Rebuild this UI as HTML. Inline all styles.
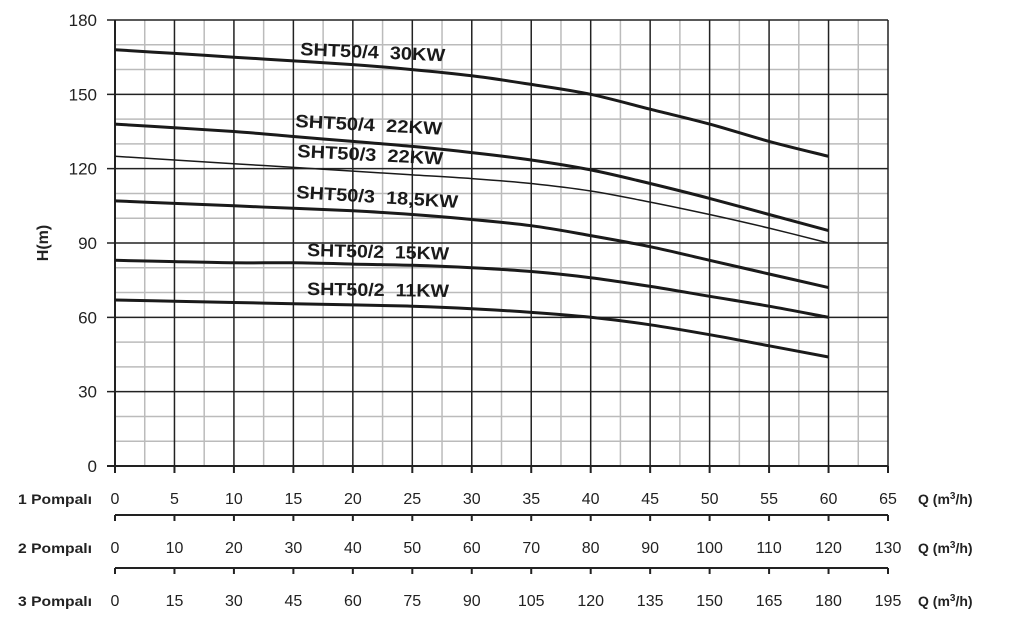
<!DOCTYPE html>
<html><head><meta charset="utf-8"><style>
body{margin:0;background:#fff;}
svg text{font-family:"Liberation Sans",sans-serif;}
</style></head><body>
<svg id="c" width="1011" height="618"></svg>
<script>
const qValues=[0,5,10,15,20,25,30,35,40,45,50,55,60];
const s30=[168,166.5,165,163.5,162,160,157.5,154,150,144,138,131,125];
const s422=[138,136.5,135,133,131,129,126.5,123.5,119.5,114,108,101.5,95];
const s322=[125,123.5,122,120.5,119,117.5,116,114,111,106.5,101.5,96,90];
const s185=[107,106,105,104,103,101.5,99.5,97,93,88.5,83,77.5,72];
const s15=[83,82.5,82,82,81.5,81,80,78.5,76,72.5,68.5,64.5,60];
const s11=[67,66.5,66,65.5,65,64.5,63.5,62,60,57,53,48.5,44];
const yTicks=[0,30,60,90,120,150,180];
const x1Ticks=[0,5,10,15,20,25,30,35,40,45,50,55,60,65];
const x2Ticks=[0,10,20,30,40,50,60,70,80,90,100,110,120,130];
const x3Ticks=[0,15,30,45,60,75,90,105,120,135,150,165,180,195];
const seriesNames=["SHT50/4  30KW","SHT50/4  22KW","SHT50/3  22KW","SHT50/3  18,5KW","SHT50/2  15KW","SHT50/2  11KW"];
const svg=document.getElementById('c');const NS='http://www.w3.org/2000/svg';
const X=q=>115+q*(773/65);const Y=h=>466-h*(446/180);
function el(t,a,p){const e=document.createElementNS(NS,t);for(const k in a)e.setAttribute(k,a[k]);(p||svg).appendChild(e);return e;}
for(let q=2.5;q<65;q+=5){const l=el('line',{x1:X(q),x2:X(q),y1:Y(180),y2:Y(0),stroke:'#bbb','stroke-width':1.5});

}
for(let h=10;h<180;h+=10){if(h%30===0)continue;const l=el('line',{x1:X(0),x2:X(65),y1:Y(h),y2:Y(h),stroke:'#bbb','stroke-width':1.5});

}
for(let q=5;q<=65;q+=5){const l=el('line',{x1:X(q),x2:X(q),y1:Y(180),y2:Y(0),stroke:'#222','stroke-width':1.5});

}
yTicks.forEach(h=>{const l=el('line',{x1:X(0)-8,x2:X(65),y1:Y(h),y2:Y(h),stroke:'#222','stroke-width':h===0?2:1.5});


const t=el('text',{x:97,y:Y(h)+6,'text-anchor':'end','font-size':17,fill:'#222'});t.textContent=h;

});
el('line',{x1:X(0),x2:X(0),y1:Y(180),y2:Y(0)+6,stroke:'#222','stroke-width':2});
const yt=el('text',{x:48,y:Y(90),'text-anchor':'middle','font-size':16,'font-weight':'bold',fill:'#222',transform:`rotate(-90 48 ${Y(90)})`});yt.textContent='H(m)';


const axes=[{ticks:x1Ticks,ly:504,label:'1 Pompalı',line:null},{ticks:x2Ticks,ly:553,label:'2 Pompalı',line:515},{ticks:x3Ticks,ly:606,label:'3 Pompalı',line:568}];
axes.forEach((a,i)=>{
 if(a.line){const l=el('line',{x1:X(0),x2:X(65),y1:a.line,y2:a.line,stroke:'#222','stroke-width':2});
 
 
 for(let k=0;k<14;k++)el('line',{x1:X(k*5),x2:X(k*5),y1:a.line,y2:a.line+6,stroke:'#222','stroke-width':2});}
 else for(let k=0;k<14;k++)el('line',{x1:X(k*5),x2:X(k*5),y1:466,y2:473,stroke:'#222','stroke-width':2});
 a.ticks.forEach((v,k)=>{const t=el('text',{x:X(k*5),y:a.ly,'text-anchor':'middle','font-size':16,fill:'#222'});t.textContent=v;
 
 });
 const lb=el('text',{x:18,y:a.ly,'font-size':14,'font-weight':'bold',fill:'#222',textLength:74,lengthAdjust:'spacingAndGlyphs'});lb.textContent=a.label;
 
 
 const u=el('text',{x:918,y:a.ly,'font-size':14,'font-weight':'bold',fill:'#222'});u.innerHTML='Q (m<tspan dy="-5" font-size="10">3</tspan><tspan dy="5">/h)</tspan>';
 
 
});
const all=[s30,s422,s322,s185,s15,s11];const widths=[3,3,1.5,3,3,3];
const lab=[[300,55,2.5,145],[295,127,3,147],[297,157,3,146],[296,198,3.5,162],[307,256,1.5,142],[307,295,0.8,142]];
all.forEach((s,i)=>{
 const pts=qValues.map((q,k)=>[X(q),Y(s[k])]);
 let d='M'+pts[0][0].toFixed(1)+','+pts[0][1].toFixed(1);
 for(let k=0;k<pts.length-1;k++){
  const p0=pts[Math.max(0,k-1)],p1=pts[k],p2=pts[k+1],p3=pts[Math.min(pts.length-1,k+2)];
  const c1=[p1[0]+(p2[0]-p0[0])/6,p1[1]+(p2[1]-p0[1])/6],c2=[p2[0]-(p3[0]-p1[0])/6,p2[1]-(p3[1]-p1[1])/6];
  d+=`C${c1[0].toFixed(1)},${c1[1].toFixed(1)} ${c2[0].toFixed(1)},${c2[1].toFixed(1)} ${p2[0].toFixed(1)},${p2[1].toFixed(1)}`;
 }
 const p=el('path',{d:d,fill:'none',stroke:'#1a1a1a','stroke-width':widths[i],'stroke-linejoin':'round'});
 
 
 const [lx,ly,r,tl]=lab[i];
 const t=el('text',{x:lx,y:ly,'font-size':18,'font-weight':'bold',fill:'#1a1a1a',transform:`rotate(${r} ${lx} ${ly})`,textLength:tl,lengthAdjust:'spacingAndGlyphs'});
 t.style.whiteSpace='pre';t.textContent=seriesNames[i];
 
 
});
</script>
</body></html>
